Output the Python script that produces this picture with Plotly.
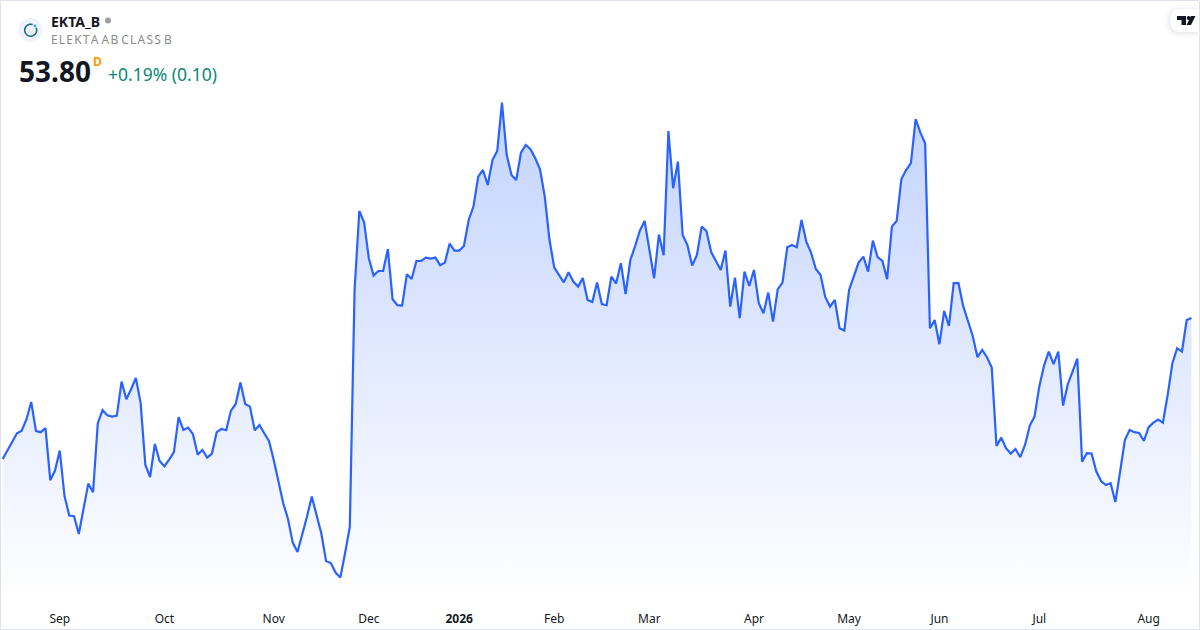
import math
import plotly.graph_objects as go

symbol = "EKTA_B"
name = "ELEKTA AB CLASS B"
last_price = "53.80"
change = "+0.19% (0.10)"
interval = "D"

month_labels = ["Sep", "Oct", "Nov", "Dec", "<b>2026</b>", "Feb", "Mar", "Apr", "May", "Jun", "Jul", "Aug"]
month_positions = [12, 34, 57, 77, 96, 116, 136, 158, 178, 197, 218, 241]

prices = [
    46.75, 47.17, 47.62, 48.04, 48.17, 48.74, 49.6, 48.14, 48.09, 48.29,
    45.69, 46.17, 47.17, 44.9, 43.92, 43.89, 43.0, 44.24, 45.52, 45.09,
    48.54, 49.2, 48.94, 48.87, 48.92, 50.62, 49.74, 50.24, 50.8, 49.57,
    46.45, 45.85, 47.5, 46.65, 46.39, 46.72, 47.09, 48.84, 48.2, 48.32,
    48.0, 46.97, 47.2, 46.82, 47.02, 48.09, 48.25, 48.19, 49.17, 49.5,
    50.57, 49.5, 49.37, 48.19, 48.45, 48.04, 47.65, 46.7, 45.62, 44.54,
    43.75, 42.57, 42.1, 42.95, 43.87, 44.87, 43.99, 43.04, 41.65, 41.55,
    41.07, 40.82, 42.04, 43.35, 55.2, 59.15, 58.59, 56.79, 55.92, 56.15,
    56.15, 57.24, 54.74, 54.44, 54.42, 55.99, 55.75, 56.65, 56.65, 56.82,
    56.77, 56.82, 56.44, 56.57, 57.52, 57.17, 57.17, 57.4, 58.7, 59.37,
    60.87, 61.2, 60.45, 61.7, 62.15, 64.57, 61.95, 60.95, 60.7, 62.07,
    62.45, 62.24, 61.79, 61.24, 59.87, 57.7, 56.32, 55.95, 55.58, 56.09,
    55.62, 55.37, 55.8, 54.7, 54.6, 55.57, 54.5, 54.44, 55.87, 55.52,
    56.54, 55.0, 56.7, 57.4, 58.17, 58.65, 57.29, 55.79, 57.97, 56.94,
    63.15, 60.29, 61.62, 57.95, 57.45, 56.42, 56.95, 58.37, 58.15, 57.09,
    56.65, 56.2, 57.17, 54.37, 55.82, 53.79, 56.12, 55.4, 56.2, 54.55,
    54.04, 55.07, 53.62, 55.24, 55.57, 57.34, 57.45, 57.34, 58.7, 57.62,
    57.07, 56.25, 55.95, 54.84, 54.37, 54.7, 53.29, 53.17, 55.2, 55.87,
    56.57, 56.87, 56.12, 57.67, 56.84, 56.65, 55.74, 58.37, 58.65, 60.75,
    61.2, 61.54, 63.75, 63.07, 62.54, 53.29, 53.7, 52.49, 54.15, 53.4,
    55.54, 55.54, 54.39, 53.65, 52.9, 51.84, 52.2, 51.84, 51.32, 47.4,
    47.82, 47.29, 47.02, 47.25, 46.84, 47.45, 48.42, 48.87, 50.37, 51.42,
    52.12, 51.49, 52.12, 49.42, 50.49, 51.12, 51.77, 46.62, 47.04, 47.02,
    46.12, 45.65, 45.45, 45.54, 44.6, 46.12, 47.7, 48.2, 48.09, 48.05,
    47.65, 48.34, 48.57, 48.72, 48.57, 49.95, 51.54, 52.29, 52.12, 53.7,
    53.8,
]
bar_index = list(range(len(prices)))

W, H, PLOT_H = 1200, 630, 600
px = lambda x: x / W
py = lambda y: 1 - y / PLOT_H


def path(d):
    """Turn a list of (cmd, x, y) pixel tuples into a paper-space SVG path."""
    return " ".join(f"{c}{px(x):.5f},{py(y):.5f}" if c else "Z" for c, x, y in d)


fig = go.Figure(
    go.Scatter(
        x=bar_index,
        y=prices,
        mode="lines",
        line=dict(color="#2962FF", width=2.2),
        fill="tozeroy",
        fillgradient=dict(
            type="vertical",
            start=39.7,
            stop=64.6,
            colorscale=[[0, "rgba(41,98,255,0)"], [1, "rgba(41,98,255,0.28)"]],
        ),
        hoverinfo="skip",
        showlegend=False,
    )
)

shapes = []


def circle(cx, cy, r, **kw):
    shapes.append(dict(type="circle", xref="paper", yref="paper",
                       x0=px(cx - r), x1=px(cx + r), y0=py(cy + r), y1=py(cy - r), **kw))


def pill(left, top, bottom, right, fill):
    r = (bottom - top) / 2
    shapes.append(dict(type="path", xref="paper", yref="paper", layer="above",
                       fillcolor=fill, line=dict(width=0),
                       path=f"M{px(right):.5f},{py(top):.5f} L{px(left + r):.5f},{py(top):.5f} "
                            f"Q{px(left):.5f},{py(top):.5f} {px(left):.5f},{py(top + r):.5f} "
                            f"Q{px(left):.5f},{py(bottom):.5f} {px(left + r):.5f},{py(bottom):.5f} "
                            f"L{px(right):.5f},{py(bottom):.5f} Z"))


# Symbol icon
circle(30.5, 30, 12, fillcolor="#f0f3fa", line=dict(width=0))
ring = [("M" if k == 0 else "L",
         30.7 + 6 * math.cos(math.radians(a)),
         30.2 + 6 * math.sin(math.radians(a)))
        for k, a in enumerate(range(-25, 300, 15))]
shapes.append(dict(type="path", xref="paper", yref="paper",
                   line=dict(color="#1f6f8b", width=1.6), path=path(ring)))
circle(35, 26, 1.4, fillcolor="#2bb5d8", line=dict(width=0))
# Status dot
circle(108, 20.5, 3, fillcolor="#9e9e9e", line=dict(width=0))

# Logo pill with a soft shadow
for grow, alpha in [(6, 0.006), (5, 0.008), (4, 0.010), (3, 0.012), (2, 0.014), (1, 0.016)]:
    pill(1170 - grow, 9 - grow + 2, 32 + grow, 1198, f"rgba(0,0,0,{alpha})")
pill(1170, 9, 32, 1198, "#ffffff")
# Logo glyph
logo_t = [("M", 1177, 16), ("L", 1186, 16), ("L", 1186, 25), ("L", 1181.5, 25), ("L", 1181.5, 20), ("L", 1177, 20), ("", 0, 0)]
logo_slash = [("M", 1191, 16), ("L", 1195.5, 16), ("L", 1191, 25), ("L", 1186.5, 25), ("", 0, 0)]
for d in (logo_t, logo_slash):
    shapes.append(dict(type="path", xref="paper", yref="paper", layer="above",
                       fillcolor="#131722", line=dict(width=0), path=path(d)))
circle(1188.7, 18, 2, fillcolor="#131722", line=dict(width=0), layer="above")

# Frame
shapes.append(dict(type="rect", xref="paper", yref="paper",
                   x0=px(0.5), x1=px(1199.5), y0=py(629.5), y1=py(0.5),
                   line=dict(color="#e0e3eb", width=1), layer="above"))

FONT = "Noto Sans"


def label(text, x, y, size, color, bold=False):
    fig.add_annotation(xref="paper", yref="paper", x=px(x - 2), y=py(y), text=f"<b>{text}</b>" if bold else text,
                       showarrow=False, xanchor="left", yanchor="middle", align="left",
                       font=dict(family=FONT, size=size, color=color))


label(symbol, 51, 21, 14, "#131722", bold=True)
label(name.replace(" ", "  ").replace("", "\u200a").strip("\u200a").replace("\u200a \u200a \u200a", " "), 51, 40, 12, "#8c8c8c")
label(last_price, 19, 71, 28, "#131722", bold=True)
label(interval, 93, 61, 12, "#ff9800", bold=True)
label(change, 108, 74, 17.5, "#0b8a73")

fig.update_layout(
    width=W,
    height=H,
    margin=dict(l=0, r=0, t=0, b=H - PLOT_H),
    paper_bgcolor="#ffffff",
    plot_bgcolor="#ffffff",
    font=dict(family=FONT, size=12, color="#131722"),
    shapes=shapes,
    xaxis=dict(
        range=[-0.568, 251.8],
        tickmode="array",
        tickvals=month_positions,
        ticktext=month_labels,
        showgrid=False,
        zeroline=False,
        showline=False,
        ticks="",
        tickangle=0,
        ticklabelstandoff=10,
        tickfont=dict(family=FONT, size=12, color="#131722"),
        fixedrange=True,
    ),
    yaxis=dict(range=[39.7, 69.7], visible=False, fixedrange=True),
)

fig.write_html("out.html", config={"displayModeBar": False},
               post_script="document.body.style.margin='0';document.documentElement.style.overflow='hidden';")
